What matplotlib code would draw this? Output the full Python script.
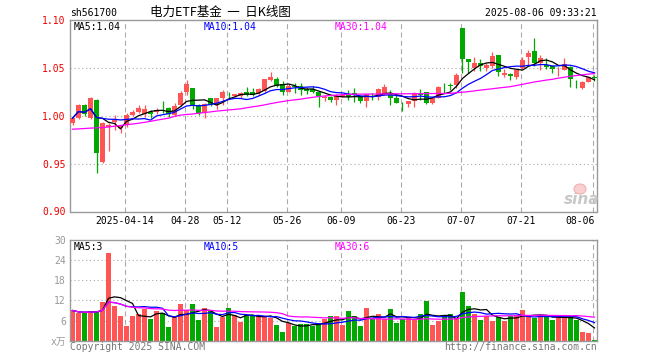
import matplotlib
matplotlib.use('Agg')
import matplotlib.pyplot as plt
import matplotlib.transforms as mtransforms
from matplotlib.patches import Ellipse
import numpy as np
import pandas as pd

# ---------------- data ----------------
holidays = ['2025-04-04', '2025-05-01', '2025-05-02', '2025-05-05', '2025-06-02']
dates = [d for d in pd.bdate_range('2025-03-31', '2025-08-06') if d.strftime('%Y-%m-%d') not in holidays]

tick_dates = ['2025-04-14', '2025-04-28', '2025-05-12', '2025-05-26', '2025-06-09',
              '2025-06-23', '2025-07-07', '2025-07-21', '2025-08-06']
tick_labels = ['2025-04-14', '04-28', '05-12', '05-26', '06-09', '06-23', '07-07', '07-21', '08-06']

opens = [0.9923, 0.9976, 1.0115, 0.9976, 1.0167, 0.9523, 0.9880, 0.9937, 0.9871, 0.9900,
         1.0010, 1.0045, 1.0020, 1.0045, 1.0040, 1.0065, 1.0087, 1.0010, 1.0115, 1.0254,
         1.0293, 1.0115, 1.0032, 1.0188, 1.0115, 1.0186, 1.0222, 1.0212, 1.0205, 1.0247,
         1.0254, 1.0237, 1.0258, 1.0380, 1.0386, 1.0335, 1.0254, 1.0310, 1.0313, 1.0278,
         1.0278, 1.0254, 1.0188, 1.0202, 1.0170, 1.0202, 1.0226, 1.0237, 1.0209, 1.0157,
         1.0212, 1.0202, 1.0219, 1.0237, 1.0190, 1.0125, 1.0122, 1.0157, 1.0228, 1.0247,
         1.0132, 1.0191, 1.0317, 1.0320, 1.0324, 1.0917, 1.0595, 1.0498, 1.0557, 1.0498,
         1.0522, 1.0637, 1.0431, 1.0440, 1.0404, 1.0500, 1.0612, 1.0679, 1.0557, 1.0532,
         1.0525, 1.0475, 1.0480, 1.0515, 1.0345, 1.0289, 1.0358, 1.0402]
highs = [0.9990, 1.0120, 1.0120, 1.0195, 1.0175, 0.9935, 0.9930, 1.0010, 0.9910, 1.0030,
         1.0060, 1.0110, 1.0110, 1.0060, 1.0080, 1.0157, 1.0090, 1.0130, 1.0260, 1.0376,
         1.0293, 1.0125, 1.0130, 1.0192, 1.0190, 1.0270, 1.0254, 1.0232, 1.0250, 1.0300,
         1.0296, 1.0290, 1.0390, 1.0463, 1.0407, 1.0370, 1.0330, 1.0340, 1.0340, 1.0306,
         1.0310, 1.0260, 1.0219, 1.0205, 1.0230, 1.0225, 1.0270, 1.0289, 1.0212, 1.0230,
         1.0237, 1.0290, 1.0335, 1.0270, 1.0215, 1.0150, 1.0160, 1.0245, 1.0282, 1.0250,
         1.0195, 1.0310, 1.0340, 1.0340, 1.0452, 1.0920, 1.0600, 1.0620, 1.0600, 1.0550,
         1.0672, 1.0640, 1.0490, 1.0450, 1.0490, 1.0612, 1.0686, 1.0811, 1.0637, 1.0602,
         1.0532, 1.0515, 1.0602, 1.0520, 1.0376, 1.0362, 1.0410, 1.0428]
lows = [0.9910, 0.9970, 1.0000, 0.9970, 0.9401, 0.9510, 0.9628, 0.9854, 0.9826, 0.9880,
        1.0000, 1.0030, 0.9990, 0.9980, 1.0020, 1.0035, 0.9990, 1.0000, 1.0100, 1.0215,
        1.0068, 1.0010, 0.9980, 1.0100, 1.0070, 1.0110, 1.0185, 1.0200, 1.0190, 1.0210,
        1.0210, 1.0220, 1.0250, 1.0370, 1.0300, 1.0220, 1.0245, 1.0244, 1.0220, 1.0230,
        1.0240, 1.0097, 1.0160, 1.0150, 1.0115, 1.0195, 1.0167, 1.0150, 1.0130, 1.0097,
        1.0170, 1.0170, 1.0215, 1.0115, 1.0130, 1.0052, 1.0097, 1.0097, 1.0167, 1.0125,
        1.0125, 1.0185, 1.0237, 1.0270, 1.0289, 1.0445, 1.0445, 1.0470, 1.0470, 1.0470,
        1.0500, 1.0420, 1.0410, 1.0376, 1.0390, 1.0488, 1.0535, 1.0522, 1.0480, 1.0487,
        1.0450, 1.0417, 1.0475, 1.0306, 1.0289, 1.0280, 1.0350, 1.0365]
closes = [0.9976, 1.0115, 1.0020, 1.0188, 0.9617, 0.9930, 0.9910, 0.9958, 0.9906, 1.0010,
          1.0045, 1.0087, 1.0070, 1.0020, 1.0060, 1.0055, 1.0020, 1.0106, 1.0244, 1.0330,
          1.0115, 1.0028, 1.0123, 1.0115, 1.0186, 1.0246, 1.0216, 1.0226, 1.0237, 1.0222,
          1.0222, 1.0280, 1.0386, 1.0410, 1.0310, 1.0246, 1.0317, 1.0304, 1.0271, 1.0264,
          1.0254, 1.0209, 1.0202, 1.0162, 1.0205, 1.0219, 1.0202, 1.0219, 1.0155, 1.0226,
          1.0207, 1.0282, 1.0300, 1.0184, 1.0139, 1.0122, 1.0157, 1.0237, 1.0223, 1.0132,
          1.0191, 1.0306, 1.0310, 1.0315, 1.0428, 1.0597, 1.0567, 1.0553, 1.0522, 1.0529,
          1.0626, 1.0463, 1.0452, 1.0417, 1.0480, 1.0585, 1.0661, 1.0557, 1.0602, 1.0515,
          1.0487, 1.0480, 1.0543, 1.0383, 1.0340, 1.0358, 1.0404, 1.0398]
ma30_price = [0.9861, 0.9864, 0.9868, 0.9872, 0.9875, 0.9878, 0.9884, 0.9892, 0.9900, 0.9908,
              0.9915, 0.9923, 0.9933, 0.9943, 0.9955, 0.9966, 0.9976, 0.9995, 1.0008, 1.0015,
              1.0020, 1.0028, 1.0035, 1.0042, 1.0050, 1.0056, 1.0062, 1.0068, 1.0074, 1.0085,
              1.0095, 1.0104, 1.0115, 1.0128, 1.0140, 1.0150, 1.0160, 1.0168, 1.0175, 1.0185,
              1.0194, 1.0202, 1.0208, 1.0213, 1.0218, 1.0222, 1.0225, 1.0227, 1.0228, 1.0228,
              1.0229, 1.0229, 1.0230, 1.0230, 1.0231, 1.0231, 1.0232, 1.0232, 1.0233, 1.0233,
              1.0234, 1.0234, 1.0235, 1.0236, 1.0242, 1.0248, 1.0254, 1.0262, 1.0270, 1.0277,
              1.0284, 1.0292, 1.0299, 1.0306, 1.0318, 1.0330, 1.0343, 1.0355, 1.0365, 1.0375,
              1.0383, 1.0395, 1.0405, 1.0415, 1.0422, 1.0430, 1.0437, 1.0443]
volumes = [9.0, 8.2, 8.2, 8.7, 8.7, 11.5, 26.1, 10.3, 7.5, 4.3, 7.3, 8.0, 9.3, 6.6, 8.9, 8.3,
           4.0, 7.0, 10.8, 9.0, 10.8, 6.3, 9.6, 9.0, 4.0, 7.2, 9.6, 7.8, 5.5, 7.7, 7.7, 7.3,
           7.5, 6.7, 4.8, 2.5, 5.3, 4.3, 4.9, 5.1, 4.3, 5.3, 6.5, 7.5,
           7.3, 4.6, 8.7, 7.3, 4.3, 9.6, 6.5, 8.1, 6.5, 9.3, 5.2, 6.5, 7.1, 6.2, 8.1, 11.7,
           4.8, 6.0, 7.1, 8.1, 6.8, 14.4, 10.2, 8.1, 6.3, 7.4, 6.0, 7.1, 5.8, 7.4, 7.6, 9.0,
           7.3, 6.8, 7.7, 7.1, 6.3, 6.9, 6.8, 7.3, 6.3, 2.7, 2.4, 0.3]

code = 'sh561700'
title = '电力ETF基金  一  日K线图'
timestamp = '2025-08-06 09:33:21'
price_ma_labels = ['MA5:1.04', 'MA10:1.04', 'MA30:1.04']
vol_ma_labels = ['MA5:3', 'MA10:5', 'MA30:6']

# ---------------- styling ----------------
W, H = 660, 360
RED = '#ff5555'
GREEN = '#00a800'
MA_COLORS = ['#000000', '#0000ff', '#ff00ff']
GRID = '#aaaaaa'
FRAME = '#999999'
MONO = ['DejaVu Sans Mono', 'Noto Sans CJK SC']
CJK = ['Noto Sans CJK SC', 'DejaVu Sans']

def fx(px):
    return px / W

def fy(py):
    return 1 - py / H

o = np.array(opens); h = np.array(highs); l = np.array(lows); c = np.array(closes)
v = np.array(volumes)
n = len(c)
x = np.arange(n)
up = c >= o
colors = np.where(up, RED, GREEN)

ma5 = pd.Series(c).rolling(5, min_periods=1).mean().values
ma10 = pd.Series(c).rolling(10, min_periods=1).mean().values
ma30 = np.array(ma30_price)
vma5 = pd.Series(v).rolling(5, min_periods=1).mean().values
vma10 = pd.Series(v).rolling(10, min_periods=1).mean().values
vma30 = pd.Series(v).rolling(30, min_periods=1).mean().values

date_str = [d.strftime('%Y-%m-%d') for d in dates]
tick_pos = [date_str.index(t) for t in tick_dates]

fig = plt.figure(figsize=(W / 100, H / 100), dpi=100)
fig.patch.set_facecolor('white')

ax = fig.add_axes([fx(70), fy(211.5), fx(597) - fx(70), (211.5 - 20.3) / H])
axv = fig.add_axes([fx(70), fy(340.7), fx(597) - fx(70), (340.7 - 240) / H])

xlim = (-0.417, n - 0.583)
for a in (ax, axv):
    a.set_xlim(*xlim)
    for s in a.spines.values():
        s.set_color(FRAME)
        s.set_linewidth(1.0)
    a.set_xticks([])
    a.tick_params(axis='y', length=0, pad=3, labelsize=7)
    for p in tick_pos:
        a.axvline(p - 0.3, color=GRID, lw=0.8, ls=(0, (4.5, 3)), zorder=0)

# ---------------- price panel ----------------
ax.set_ylim(0.90, 1.10)
for yv in (0.95, 1.00, 1.05):
    ax.axhline(yv, color=GRID, lw=0.8, ls=(0, (1, 2.5)), zorder=0)
ax.set_yticks([0.90, 0.95, 1.00, 1.05, 1.10])
ax.set_yticklabels(['%.2f' % t for t in [0.90, 0.95, 1.00, 1.05, 1.10]],
                   color='#ee0000', family=MONO)

ax.vlines(x, l, h, colors=colors, lw=0.9, zorder=2)
body_bottom = np.minimum(o, c)
body_h = np.maximum(np.abs(c - o), 0.0006)
ax.bar(x, body_h, bottom=body_bottom, width=0.83, color=colors, lw=0, zorder=3)

for arr, col in zip([ma5, ma10, ma30], MA_COLORS):
    ax.plot(x, arr, color=col, lw=0.9, zorder=4)

for txt, px, col in zip(price_ma_labels, [74, 204, 335], MA_COLORS):
    fig.text(fx(px), fy(26.7), txt, color=col, family=MONO, fontsize=7, va='center', ha='left')

# date labels
btrans = mtransforms.blended_transform_factory(ax.transData, fig.transFigure)
for i, (p, lab) in enumerate(zip(tick_pos, tick_labels)):
    if i == len(tick_pos) - 1:
        ax.text(p + 0.1, fy(221), lab, transform=btrans, ha='right', va='center',
                family=MONO, fontsize=7, color='black')
    else:
        ax.text(p - 0.3, fy(221), lab, transform=btrans, ha='center', va='center',
                family=MONO, fontsize=7, color='black')

# watermark (logo eye as a patch, word as text)
eye = Ellipse((fx(580), fy(189)), width=12 / W, height=10 / H, transform=fig.transFigure,
              facecolor='#f8d0d0', edgecolor='#f0b0b0', lw=0.8, zorder=5)
fig.add_artist(eye)
fig.text(fx(582), fy(200), 'sina', color='#c8c8c8', fontsize=11, fontweight='bold',
         style='italic', ha='center', va='center', family='DejaVu Sans')

# ---------------- volume panel ----------------
axv.set_ylim(0, 30)
for yv in (6, 12, 18, 24):
    axv.axhline(yv, color=GRID, lw=0.8, ls=(0, (1, 2.5)), zorder=0)
axv.set_yticks([0, 6, 12, 18, 24, 30])
axv.set_yticklabels(['x万', '6', '12', '18', '24', '30'], color='#999999', family=MONO)
axv.bar(x, v, width=0.85, color=colors, lw=0, zorder=2)
for arr, col in zip([vma5, vma10, vma30], MA_COLORS):
    axv.plot(x, arr, color=col, lw=0.9, zorder=3)
for txt, px, col in zip(vol_ma_labels, [74, 204, 335], MA_COLORS):
    fig.text(fx(px), fy(246.7), txt, color=col, family=MONO, fontsize=7, va='center', ha='left')

# ---------------- header / footer ----------------
fig.text(fx(70), fy(12.5), code, family=MONO, fontsize=7, va='center', ha='left', color='black')
fig.text(fx(150), fy(12.5), title, family=CJK, fontsize=9, va='center', ha='left', color='black')
fig.text(fx(597), fy(12.5), timestamp, family=MONO, fontsize=7, va='center', ha='right', color='black')
fig.text(fx(70), fy(347), 'Copyright 2025 SINA.COM', family=MONO, fontsize=7,
         va='center', ha='left', color='#777777')
fig.text(fx(597), fy(347), 'http://finance.sina.com.cn', family=MONO, fontsize=7,
         va='center', ha='right', color='#777777')

fig.savefig('out.png', dpi=100, facecolor='white')
